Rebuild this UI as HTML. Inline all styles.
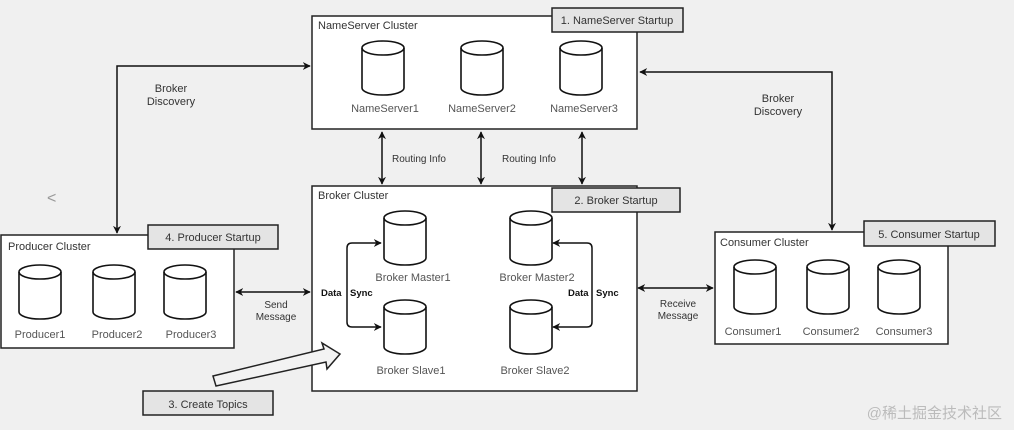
<!DOCTYPE html>
<html><head><meta charset="utf-8"><style>
html,body{margin:0;padding:0;background:#f0f0f0}
svg{display:block}
text{font-family:"Liberation Sans",Arial,sans-serif;fill:#333}
</style></head><body>
<svg width="1014" height="430" viewBox="0 0 1014 430" xmlns="http://www.w3.org/2000/svg">
<defs>
<g id="cyl">
<path d="M1 8 A21 7 0 0 1 43 8 V48 A21 7 0 0 1 1 48 Z" fill="#fff" stroke="#111" stroke-width="1.6"/>
<path d="M1 8 A21 7 0 0 0 43 8" fill="none" stroke="#111" stroke-width="1.6"/>
</g>
<marker id="ar" viewBox="0 0 10 10" refX="9" refY="5" markerWidth="8" markerHeight="8" orient="auto-start-reverse" markerUnits="userSpaceOnUse"><path d="M0 0 L10 5 L0 10 L3 5 Z" fill="#111"/></marker>
</defs>
<rect width="1014" height="430" fill="#f0f0f0"/>

<!-- discovery lines -->
<path d="M117 233 V66 H310" fill="none" stroke="#111" stroke-width="1.5" marker-start="url(#ar)" marker-end="url(#ar)"/>
<path d="M640 72 H832 V230" fill="none" stroke="#111" stroke-width="1.5" marker-start="url(#ar)" marker-end="url(#ar)"/>
<text x="171" y="92" font-size="11" text-anchor="middle">Broker</text>
<text x="171" y="105" font-size="11" text-anchor="middle">Discovery</text>
<text x="778" y="102" font-size="11" text-anchor="middle">Broker</text>
<text x="778" y="115" font-size="11" text-anchor="middle">Discovery</text>
<text x="47" y="203" font-size="16" fill="#999" style="fill:#999">&lt;</text>

<!-- NameServer -->
<rect x="312" y="16" width="325" height="113" fill="#fff" stroke="#222" stroke-width="1.5"/>
<text x="318" y="29" font-size="11">NameServer Cluster</text>
<rect x="552" y="8" width="131" height="24" fill="#e4e4e4" stroke="#222" stroke-width="1.5"/>
<text x="617" y="24" font-size="11" text-anchor="middle">1. NameServer Startup</text>
<use href="#cyl" x="361" y="40"/>
<use href="#cyl" x="460" y="40"/>
<use href="#cyl" x="559" y="40"/>
<text x="385" y="112" font-size="11" text-anchor="middle" style="fill:#555">NameServer1</text>
<text x="482" y="112" font-size="11" text-anchor="middle" style="fill:#555">NameServer2</text>
<text x="584" y="112" font-size="11" text-anchor="middle" style="fill:#555">NameServer3</text>

<!-- routing -->
<line x1="382" y1="132" x2="382" y2="184" stroke="#111" stroke-width="1.5" marker-start="url(#ar)" marker-end="url(#ar)"/>
<line x1="481" y1="132" x2="481" y2="184" stroke="#111" stroke-width="1.5" marker-start="url(#ar)" marker-end="url(#ar)"/>
<line x1="582" y1="132" x2="582" y2="184" stroke="#111" stroke-width="1.5" marker-start="url(#ar)" marker-end="url(#ar)"/>
<text x="392" y="162" font-size="10">Routing Info</text>
<text x="502" y="162" font-size="10">Routing Info</text>

<!-- Broker -->
<rect x="312" y="186" width="325" height="205" fill="#fff" stroke="#222" stroke-width="1.5"/>
<text x="318" y="199" font-size="11">Broker Cluster</text>
<rect x="552" y="188" width="128" height="24" fill="#e4e4e4" stroke="#222" stroke-width="1.5"/>
<text x="616" y="204" font-size="11" text-anchor="middle">2. Broker Startup</text>
<use href="#cyl" x="383" y="210"/>
<use href="#cyl" x="509" y="210"/>
<use href="#cyl" x="383" y="299"/>
<use href="#cyl" x="509" y="299"/>
<text x="413" y="281" font-size="11" text-anchor="middle" style="fill:#555">Broker Master1</text>
<text x="537" y="281" font-size="11" text-anchor="middle" style="fill:#555">Broker Master2</text>
<text x="411" y="374" font-size="11" text-anchor="middle" style="fill:#555">Broker Slave1</text>
<text x="535" y="374" font-size="11" text-anchor="middle" style="fill:#555">Broker Slave2</text>
<path d="M381 243 H352 Q347 243 347 248 V322 Q347 327 352 327 H381" fill="none" stroke="#111" stroke-width="1.5" marker-start="url(#ar)" marker-end="url(#ar)"/>
<path d="M553 243 H587 Q592 243 592 248 V322 Q592 327 587 327 H553" fill="none" stroke="#111" stroke-width="1.5" marker-start="url(#ar)" marker-end="url(#ar)"/>
<text x="321" y="296" font-size="9.5" font-weight="bold" style="fill:#111">Data</text>
<text x="350" y="296" font-size="9.5" font-weight="bold" style="fill:#111">Sync</text>
<text x="568" y="296" font-size="9.5" font-weight="bold" style="fill:#111">Data</text>
<text x="596" y="296" font-size="9.5" font-weight="bold" style="fill:#111">Sync</text>

<!-- Producer -->
<rect x="1" y="235" width="233" height="113" fill="#fff" stroke="#222" stroke-width="1.5"/>
<text x="8" y="250" font-size="11">Producer Cluster</text>
<rect x="148" y="225" width="130" height="24" fill="#e4e4e4" stroke="#222" stroke-width="1.5"/>
<text x="213" y="241" font-size="11" text-anchor="middle">4. Producer Startup</text>
<use href="#cyl" x="18" y="264"/>
<use href="#cyl" x="92" y="264"/>
<use href="#cyl" x="163" y="264"/>
<text x="40" y="338" font-size="11" text-anchor="middle" style="fill:#555">Producer1</text>
<text x="117" y="338" font-size="11" text-anchor="middle" style="fill:#555">Producer2</text>
<text x="191" y="338" font-size="11" text-anchor="middle" style="fill:#555">Producer3</text>
<line x1="236" y1="292" x2="310" y2="292" stroke="#111" stroke-width="1.5" marker-start="url(#ar)" marker-end="url(#ar)"/>
<text x="276" y="308" font-size="10" text-anchor="middle">Send</text>
<text x="276" y="320" font-size="10" text-anchor="middle">Message</text>

<!-- Consumer -->
<rect x="715" y="232" width="233" height="112" fill="#fff" stroke="#222" stroke-width="1.5"/>
<text x="720" y="246" font-size="11">Consumer Cluster</text>
<rect x="864" y="221" width="131" height="25" fill="#e4e4e4" stroke="#222" stroke-width="1.5"/>
<text x="929" y="238" font-size="11" text-anchor="middle">5. Consumer Startup</text>
<use href="#cyl" x="733" y="259"/>
<use href="#cyl" x="806" y="259"/>
<use href="#cyl" x="877" y="259"/>
<text x="753" y="335" font-size="11" text-anchor="middle" style="fill:#555">Consumer1</text>
<text x="831" y="335" font-size="11" text-anchor="middle" style="fill:#555">Consumer2</text>
<text x="904" y="335" font-size="11" text-anchor="middle" style="fill:#555">Consumer3</text>
<line x1="638" y1="288" x2="713" y2="288" stroke="#111" stroke-width="1.5" marker-start="url(#ar)" marker-end="url(#ar)"/>
<text x="678" y="307" font-size="10" text-anchor="middle">Receive</text>
<text x="678" y="319" font-size="10" text-anchor="middle">Message</text>

<!-- Create topics -->
<path d="M213 376 L324 349 L322 343 L340 354 L327 369 L326 362 L216 386 Z" fill="#f3f3f3" stroke="#222" stroke-width="1.5"/>
<rect x="143" y="391" width="130" height="24" fill="#e4e4e4" stroke="#222" stroke-width="1.5"/>
<text x="208" y="408" font-size="11" text-anchor="middle">3. Create Topics</text>

<text x="1002" y="418" font-size="15" text-anchor="end" style="fill:#bbb;font-family:'Liberation Sans','Noto Sans CJK SC',sans-serif">@稀土掘金技术社区</text>
</svg>
</body></html>
